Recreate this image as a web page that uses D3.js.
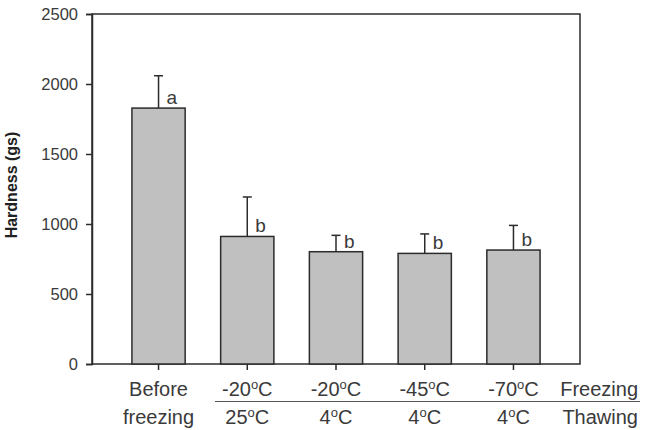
<!DOCTYPE html>
<html><head><meta charset="utf-8">
<script src="https://cdn.jsdelivr.net/npm/d3@7"></script>
<style>
html,body{margin:0;padding:0;background:#fff;}
svg{display:block;font-family:"Liberation Sans",Arial,Helvetica,sans-serif;}
</style></head>
<body>
<svg id="chart" width="647" height="430"></svg>
<script>
const categories = ["Before freezing", "-20/25", "-20/4", "-45/4", "-70/4"];
const freezingLabels = ["Before", "-20", "-20", "-45", "-70"];
const thawingLabels = ["freezing", "25", "4", "4", "4"];
const hardness = [1828, 911, 802, 790, 814];
const errors = [231, 282, 117, 139, 176];
const letters = ["a", "b", "b", "b", "b"];
const yTicks = [0, 500, 1000, 1500, 2000, 2500];

const W = 647, H = 430;
const m = {top: 14, right: 67, bottom: 66, left: 92};
const svg = d3.select("#chart");
const ink = "#2b2b2b", txt = "#3a3a3a";

const x = d3.scaleBand().domain(categories).range([m.left, W - m.right])
  .paddingInner(0.4).paddingOuter(0.45);
const y = d3.scaleLinear().domain([0, 2500]).range([H - m.bottom, m.top]);

// frame
svg.append("rect").attr("x", m.left).attr("y", m.top)
  .attr("width", W - m.left - m.right).attr("height", H - m.top - m.bottom)
  .attr("fill", "none").attr("stroke", ink).attr("stroke-width", 1.5);

// y axis
const ya = svg.append("g").attr("transform", `translate(${m.left},0)`)
  .call(d3.axisLeft(y).tickValues(yTicks).tickSize(6).tickPadding(8).tickFormat(d3.format("d")));
ya.select(".domain").attr("stroke", ink).attr("stroke-width", 1.5);
ya.selectAll(".tick line").attr("stroke", ink).attr("stroke-width", 1.5);
ya.selectAll(".tick text").attr("fill", txt).style("font-size", "16.5px")
  .style("font-family", "'Liberation Sans',Arial,sans-serif");

// x axis ticks
const xa = svg.append("g").attr("transform", `translate(0,${H - m.bottom})`)
  .call(d3.axisBottom(x).tickSize(6).tickFormat(""));
xa.select(".domain").remove();
xa.selectAll(".tick line").attr("stroke", ink).attr("stroke-width", 1.5);

const data = categories.map((c, i) => ({c, v: hardness[i], e: errors[i], l: letters[i], f: freezingLabels[i], t: thawingLabels[i], i}));

// error bars (upper only)
const eb = svg.append("g").attr("stroke", ink).attr("stroke-width", 1.5);
data.forEach(d => {
  const cx = x(d.c) + x.bandwidth() / 2;
  eb.append("line").attr("x1", cx).attr("x2", cx).attr("y1", y(d.v)).attr("y2", y(d.v + d.e));
  eb.append("line").attr("x1", cx - 4.5).attr("x2", cx + 4.5).attr("y1", y(d.v + d.e)).attr("y2", y(d.v + d.e));
});

// bars
svg.append("g").selectAll("rect").data(data).join("rect")
  .attr("x", d => x(d.c)).attr("width", x.bandwidth())
  .attr("y", d => y(d.v)).attr("height", d => y(0) - y(d.v))
  .attr("fill", "#c0c0c0").attr("stroke", ink).attr("stroke-width", 1.5);

// significance letters
svg.append("g").selectAll("text").data(data).join("text")
  .attr("x", d => x(d.c) + x.bandwidth() / 2 + 8)
  .attr("y", d => y(d.v) - 4)
  .attr("fill", txt).style("font-size", "19px").text(d => d.l);

// category labels
const lab = svg.append("g").attr("fill", txt).style("font-size", "20px").attr("text-anchor", "middle");
data.forEach(d => {
  const cx = x(d.c) + x.bandwidth() / 2;
  const rows = [[d.f, 396], [d.t, 424]];
  rows.forEach(([s, yy]) => {
    const t = lab.append("text").attr("x", cx).attr("y", yy);
    if (d.i === 0) { t.text(s); }
    else {
      t.append("tspan").text(s);
      t.append("tspan").attr("dy", -7).style("font-size", "13px").text("o");
      t.append("tspan").attr("dy", 7).text("C");
    }
  });
});
svg.append("text").attr("x", 638).attr("y", 396).attr("text-anchor", "end")
  .attr("fill", txt).style("font-size", "20px").text("Freezing");
svg.append("text").attr("x", 638).attr("y", 424).attr("text-anchor", "end")
  .attr("fill", txt).style("font-size", "20px").text("Thawing");
svg.append("line").attr("x1", 215).attr("x2", 640).attr("y1", 401.5).attr("y2", 401.5)
  .attr("stroke", "#555").attr("stroke-width", 1.2);

// y label
svg.append("text").attr("transform", `translate(17,${(m.top + H - m.bottom) / 2 - 4}) rotate(-90)`)
  .attr("text-anchor", "middle").attr("fill", "#222")
  .style("font-size", "16px").style("font-weight", "bold").text("Hardness (gs)");
</script>
</body></html>
